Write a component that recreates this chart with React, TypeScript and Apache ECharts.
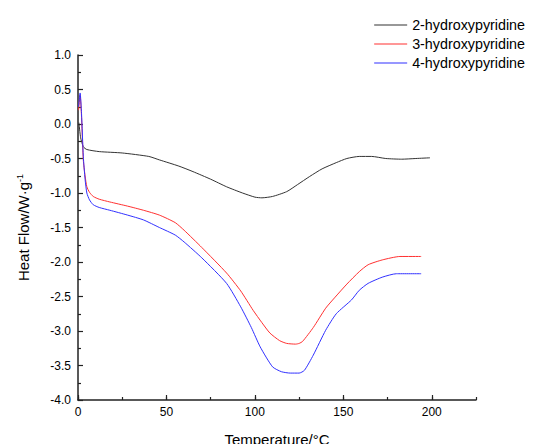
import React, { useEffect, useRef } from "react";
import * as echarts from "echarts";

const seriesNames = ["2-hydroxypyridine", "3-hydroxypyridine", "4-hydroxypyridine"];

const tBlack = [0.5, 1.5, 3, 5, 12, 25, 40, 46, 57, 65, 75, 84, 93, 100, 104, 110, 118, 124, 131, 138, 146, 152, 159, 166, 174, 183, 191, 199];
const vBlack = [0.02, -0.2, -0.33, -0.37, -0.4, -0.42, -0.47, -0.52, -0.61, -0.69, -0.8, -0.91, -1.0, -1.06, -1.07, -1.05, -0.98, -0.88, -0.76, -0.65, -0.56, -0.5, -0.47, -0.47, -0.5, -0.51, -0.5, -0.49];

const tRed = [0.3, 1.2, 2, 3, 4, 5, 6.5, 8.6, 12, 18, 28, 37, 46, 55, 60, 70, 84, 92, 99, 104, 108.5, 114, 118, 123, 125, 127, 133, 140, 145, 152, 159, 164, 172, 182, 194];
const vRed = [0.2, 0.42, 0.1, -0.52, -0.75, -0.91, -0.99, -1.05, -1.09, -1.13, -1.19, -1.25, -1.32, -1.43, -1.54, -1.79, -2.16, -2.42, -2.7, -2.88, -3.03, -3.14, -3.18, -3.19, -3.18, -3.15, -2.95, -2.67, -2.52, -2.32, -2.14, -2.04, -1.97, -1.92, -1.92];

const tBlue = [0.3, 1.2, 2, 3, 4, 5, 6.5, 8.6, 12, 18, 28, 37, 46, 55, 60, 70, 84, 92, 98, 103, 110, 115, 120, 125, 128, 133, 140, 146, 154.6, 159, 164, 172, 180, 194];
const vBlue = [0.25, 0.45, 0.15, -0.47, -0.8, -1.0, -1.1, -1.17, -1.21, -1.25, -1.32, -1.39, -1.5, -1.61, -1.71, -1.94, -2.31, -2.65, -2.95, -3.23, -3.52, -3.59, -3.61, -3.61, -3.57, -3.35, -2.99, -2.75, -2.55, -2.41, -2.31, -2.22, -2.17, -2.17];

const xMajorTicks = [0, 50, 100, 150, 200];

const zip = (xs: number[], ys: number[]) => xs.map((x, i) => [x, ys[i]]);

const FONT = "Liberation Sans, Arial, sans-serif";
const AXIS_COLOR = "#222";

export default function App() {
  const ref = useRef<HTMLDivElement>(null);
  useEffect(() => {
    if (!ref.current) return;
    const chart = echarts.init(ref.current, undefined, { renderer: "svg" });
    const colors = ["#333333", "#ff3030", "#3030ff"];
    const datasets = [zip(tBlack, vBlack), zip(tRed, vRed), zip(tBlue, vBlue)];
    chart.setOption({
      animation: false,
      backgroundColor: "#ffffff",
      textStyle: { fontFamily: FONT },
      grid: { left: 78, right: 57, top: 55, bottom: 44, containLabel: false, outerBoundsMode: "none" },
      legend: {
        orient: "vertical",
        right: 3,
        top: 12,
        icon: "rect",
        itemWidth: 33,
        itemHeight: 1.2,
        itemGap: 3,
        textStyle: { fontSize: 14.3, color: "#000", fontFamily: FONT, lineHeight: 16 },
        data: seriesNames,
      },
      xAxis: [
        {
          type: "value",
          min: 0,
          max: 225,
          interval: 50,
          name: "Temperature/°C",
          nameLocation: "middle",
          nameGap: 32,
          nameTextStyle: { fontSize: 15, color: "#000", fontFamily: FONT },
          axisLine: { show: true, onZero: false, lineStyle: { color: AXIS_COLOR, width: 1.5 } },
          axisTick: { show: true, inside: true, length: 5, lineStyle: { color: AXIS_COLOR, width: 1.2 }, customValues: xMajorTicks },
          axisLabel: { show: true, margin: 6, fontSize: 12, color: "#000", fontFamily: FONT, customValues: xMajorTicks },
          splitLine: { show: false },
        },
        {
          type: "value",
          position: "bottom",
          min: 0,
          max: 225,
          interval: 25,
          axisLine: { show: false, onZero: false },
          axisTick: { show: true, inside: true, length: 3, lineStyle: { color: AXIS_COLOR, width: 1.2 } },
          axisLabel: { show: false },
          splitLine: { show: false },
        },
      ],
      yAxis: {
        type: "value",
        min: -4,
        max: 1,
        interval: 0.5,
        name: "Heat Flow/W·g{sup|-1}",
        nameLocation: "middle",
        nameGap: 46,
        nameTextStyle: {
          fontSize: 15,
          color: "#000",
          fontFamily: FONT,
          rich: { sup: { fontSize: 9, verticalAlign: "top", padding: [0, 0, 8, 0], color: "#000", fontFamily: FONT } },
        },
        axisLine: { show: true, onZero: false, lineStyle: { color: AXIS_COLOR, width: 1.5 } },
        axisTick: { show: true, inside: true, length: 5, lineStyle: { color: AXIS_COLOR, width: 1.2 } },
        minorTick: { show: true, splitNumber: 2, length: 3, lineStyle: { color: AXIS_COLOR, width: 1.2 } },
        axisLabel: {
          margin: 7,
          fontSize: 12,
          color: "#000",
          fontFamily: FONT,
          formatter: (v: number) => v.toFixed(1),
        },
        splitLine: { show: false },
      },
      series: seriesNames.map((name, i) => ({
        name,
        type: "line",
        xAxisIndex: 0,
        data: datasets[i],
        symbol: "none",
        smooth: 0.2,
        lineStyle: { color: colors[i], width: 1 },
        itemStyle: { color: colors[i] },
      })),
    });
    return () => chart.dispose();
  }, []);
  return <div ref={ref} style={{ position: "absolute", left: 0, top: 0, width: 533, height: 444 }} />;
}
